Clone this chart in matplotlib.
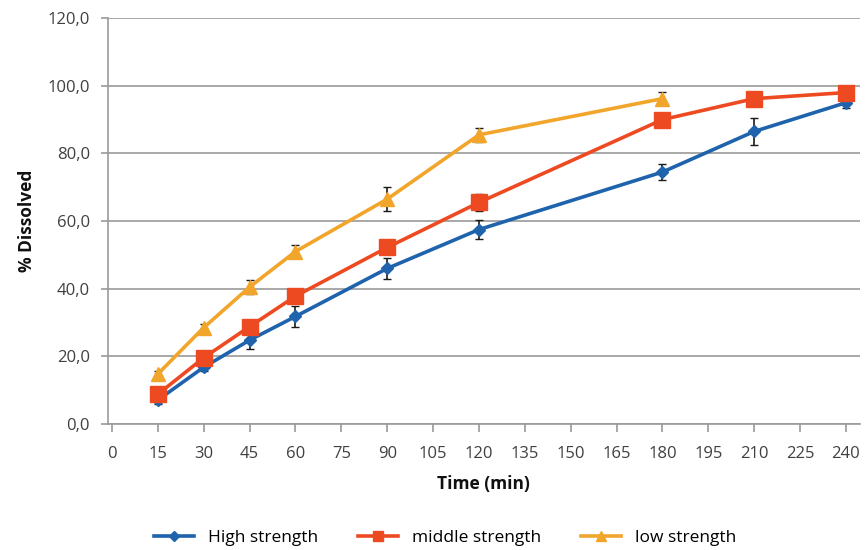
import numpy as np
import matplotlib.pyplot as plt
from matplotlib.lines import Line2D
from matplotlib.ticker import FuncFormatter

plt.rcParams['font.family'] = ['Open Sans', 'DejaVu Sans']

time_high = [15, 30, 45, 60, 90, 120, 180, 210, 240]
high = [7.1, 16.8, 24.8, 31.8, 46.0, 57.5, 74.5, 86.5, 95.0]
high_err = [1.2, 1.2, 2.5, 3.0, 3.2, 2.8, 2.4, 4.0, 1.5]

time_mid = [15, 30, 45, 60, 90, 120, 180, 210, 240]
mid = [8.8, 19.6, 28.8, 37.8, 52.2, 65.5, 90.0, 96.2, 98.0]
mid_err = [1.0, 1.0, 1.2, 2.0, 1.2, 2.5, 1.0, 1.0, 1.0]

time_low = [15, 30, 45, 60, 90, 120, 180]
low = [14.8, 28.5, 40.5, 51.0, 66.5, 85.5, 96.2]
low_err = [1.0, 1.0, 2.0, 2.0, 3.5, 2.0, 2.0]

names = ['High strength', 'middle strength', 'low strength']
colors = ['#1f63ad', '#ee4a22', '#f2a52b']
markers = ['D', 's', '^']

x_ticks = np.arange(0, 241, 15)
y_ticks = np.arange(0, 121, 20)

fig = plt.figure(figsize=(8.66, 5.5), dpi=100)
ax = fig.add_axes([0.1247, 0.229, 0.868, 0.738])

series = [(time_high, high, high_err, 6, 3),
          (time_mid, mid, mid_err, 11, 4),
          (time_low, low, low_err, 10, 2)]
for (t, v, e, ms, z), c, m in zip(series, colors, markers):
    ax.errorbar(t, v, yerr=e, color=c, marker=m, markersize=ms, lw=2.6,
                ecolor='#1a1a1a', elinewidth=1.2, capsize=3, zorder=z)

ax.set_xlim(-1.3, 244.5)
ax.set_ylim(0, 120)
ax.set_xticks(x_ticks)
ax.set_yticks(y_ticks)
ax.yaxis.set_major_formatter(FuncFormatter(lambda v, p: f'{v:.1f}'.replace('.', ',')))
ax.grid(axis='y', color='#9a9a9a', lw=1.2)
ax.set_axisbelow(True)
for s in ['top', 'right']:
    ax.spines[s].set_visible(False)
for s in ['left', 'bottom']:
    ax.spines[s].set_color('#9a9a9a')
    ax.spines[s].set_linewidth(1.2)
ax.tick_params(colors='#9a9a9a', labelcolor='#404040', labelsize=12, width=1.2)
ax.tick_params(axis='x', length=6, pad=10)
ax.tick_params(axis='y', length=5, pad=8)

ax.set_xlabel('Time (min)', fontsize=12.5, fontweight='bold', color='#111111', labelpad=9)
ax.set_ylabel('% Dissolved', fontsize=12.5, fontweight='bold', color='#111111', labelpad=8)

handles = [Line2D([], [], color=c, marker=m, markersize=ms, lw=2.6)
           for c, m, ms in zip(colors, markers, [5, 7, 7])]
fig.legend(handles, names, loc='center', bbox_to_anchor=(0.514, 1 - 538 / 550), ncol=3,
           frameon=False, fontsize=12.5, handlelength=2.3, handletextpad=0.8,
           columnspacing=2.3)

fig.savefig('out.png', dpi=100)
